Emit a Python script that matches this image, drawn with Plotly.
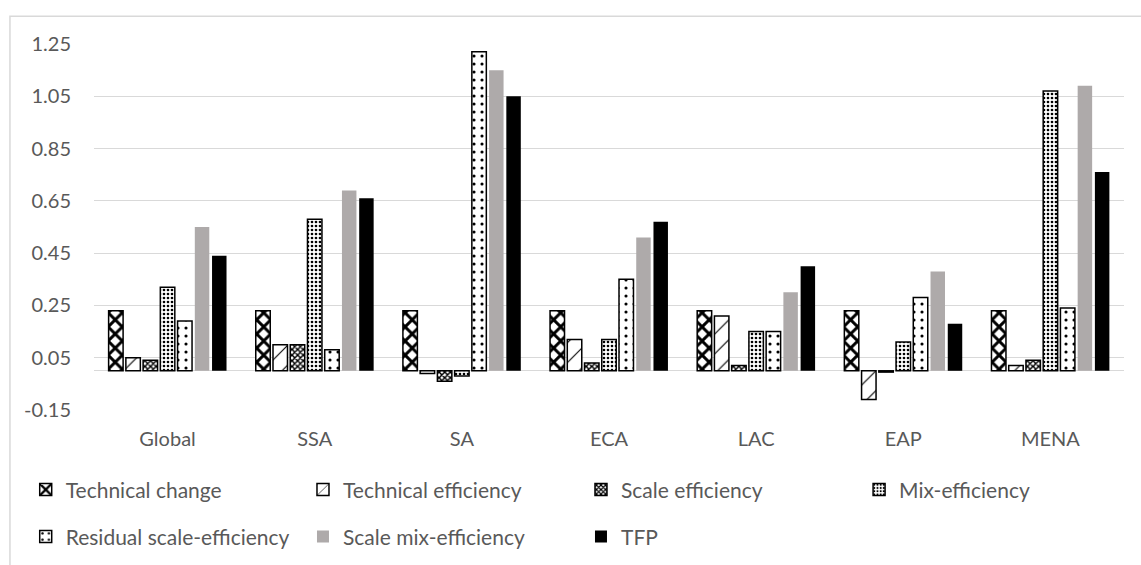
import plotly.graph_objects as go

categories = ["Global", "SSA", "SA", "ECA", "LAC", "EAP", "MENA"]

technical_change = [0.23, 0.23, 0.23, 0.23, 0.23, 0.23, 0.23]
technical_efficiency = [0.05, 0.10, -0.01, 0.12, 0.21, -0.11, 0.02]
scale_efficiency = [0.04, 0.10, -0.04, 0.03, 0.02, -0.005, 0.04]
mix_efficiency = [0.32, 0.58, -0.02, 0.12, 0.15, 0.11, 1.07]
residual_scale_efficiency = [0.19, 0.08, 1.22, 0.35, 0.15, 0.28, 0.24]
scale_mix_efficiency = [0.55, 0.69, 1.15, 0.51, 0.30, 0.38, 1.09]
tfp = [0.44, 0.66, 1.05, 0.57, 0.40, 0.18, 0.76]

y_ticks = [-0.15, 0.05, 0.25, 0.45, 0.65, 0.85, 1.05, 1.25]
y_tick_labels = ["-0.15", "0.05", "0.25", "0.45", "0.65", "0.85", "1.05", "1.25"]

FONT = "Lato"
TXT = "#595959"
GRID = "#D9D9D9"

patterned = [
    ("Technical change", technical_change, dict(shape="x", size=10, solidity=0.5)),
    ("Technical efficiency", technical_efficiency, dict(shape="/", size=14, solidity=0.08)),
    ("Scale efficiency", scale_efficiency, dict(shape="x", size=4, solidity=0.6)),
    ("Mix-efficiency", mix_efficiency, dict(shape=".", size=4, solidity=0.35)),
    ("Residual scale-efficiency", residual_scale_efficiency, dict(shape=".", size=8, solidity=0.12)),
]

legend_ids = ["legend2", "legend3", "legend4", "legend5", "legend6", "legend7", "legend8"]

fig = go.Figure()
for i, (name, vals, pat) in enumerate(patterned):
    p = dict(pat)
    p.update(fgcolor="black", bgcolor="white", fillmode="replace")
    fig.add_trace(go.Bar(
        name=name, x=categories, y=vals, legend=legend_ids[i], showlegend=True,
        marker=dict(color="white", pattern=p, line=dict(color="black", width=1.5)),
    ))

fig.add_trace(go.Bar(name="Scale mix-efficiency", x=categories, y=scale_mix_efficiency,
                     legend=legend_ids[5], showlegend=True,
                     marker=dict(color="#AEAAAA", line=dict(width=0))))
fig.add_trace(go.Bar(name="TFP", x=categories, y=tfp,
                     legend=legend_ids[6], showlegend=True,
                     marker=dict(color="black", line=dict(width=0))))

leg_common = dict(orientation="h", xanchor="left", yanchor="middle",
                  font=dict(family=FONT, size=21, color=TXT),
                  bgcolor="rgba(0,0,0,0)", itemclick=False)

col_x = [-0.0663, 0.2029, 0.4728, 0.7428]
row_y = [-0.2184, -0.3467]
leg_pos = [(col_x[0], row_y[0]), (col_x[1], row_y[0]), (col_x[2], row_y[0]), (col_x[3], row_y[0]),
           (col_x[0], row_y[1]), (col_x[1], row_y[1]), (col_x[2], row_y[1])]

legends = {}
for lid, (lx, ly) in zip(legend_ids, leg_pos):
    legends[lid] = dict(x=lx, y=ly, **leg_common)

fig.update_layout(
    width=1141, height=565,
    paper_bgcolor="white", plot_bgcolor="white",
    margin=dict(l=94, r=17, t=44, b=155, autoexpand=False),
    barmode="group", bargap=0.18, bargroupgap=0.16,
    showlegend=True,
    font=dict(family=FONT, size=20, color=TXT),
    xaxis=dict(showgrid=False, showline=False, ticks="", ticklabelstandoff=15,
               tickfont=dict(family=FONT, size=20, color=TXT)),
    yaxis=dict(range=[-0.15, 1.25], tickvals=y_ticks, ticktext=y_tick_labels,
               showgrid=True, gridcolor=GRID, gridwidth=1,
               zeroline=True, zerolinecolor=GRID, zerolinewidth=1,
               showline=False, ticks="", ticklabelstandoff=22,
               tickfont=dict(family=FONT, size=20, color=TXT)),
    shapes=[dict(type="rect", xref="paper", yref="paper",
                 x0=-0.0816, x1=1.2, y0=-1.0, y1=1.0756,
                 line=dict(color=GRID, width=1.5), fillcolor="rgba(0,0,0,0)", layer="below")],
    **legends,
)

fig.write_html("out.html",
               config={"displayModeBar": False},
               post_script="document.body.style.margin='0px';document.body.style.overflow='hidden';")
